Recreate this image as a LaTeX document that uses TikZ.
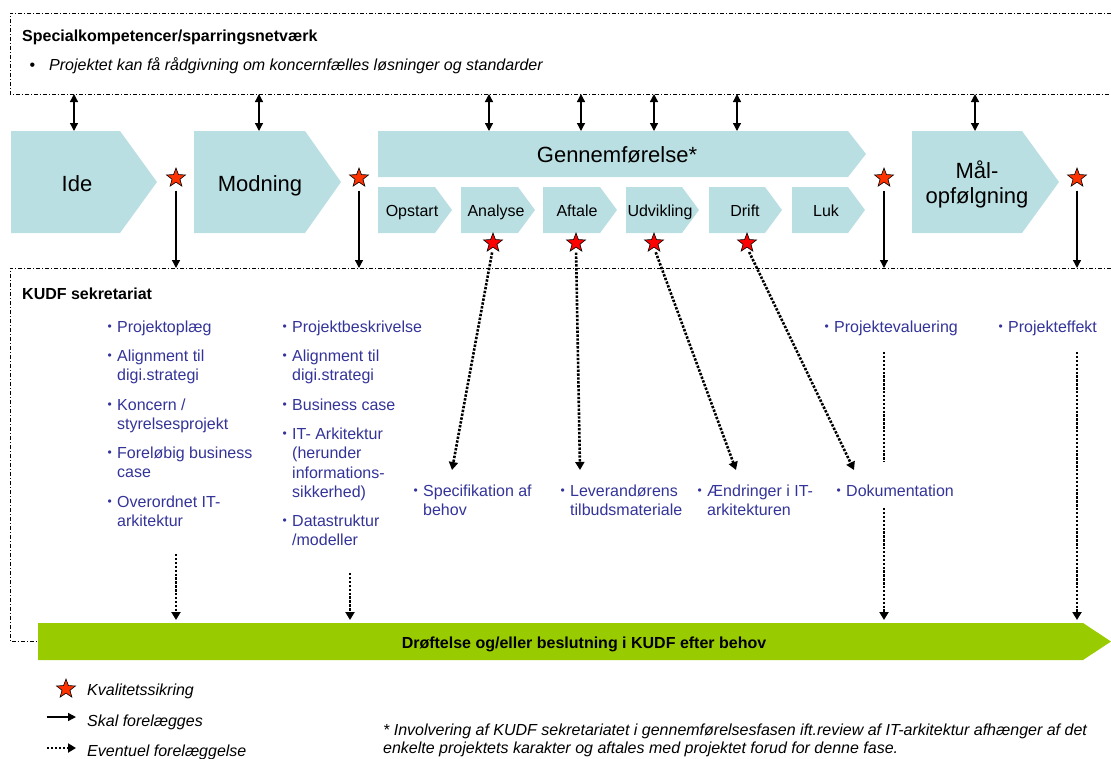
\documentclass[tikz,border=0pt]{standalone}
\usepackage{fontspec}
\setmainfont{Liberation Sans}
\usetikzlibrary{arrows.meta,shapes.geometric}
\definecolor{chevc}{RGB}{186,223,226}
\definecolor{greenbar}{RGB}{153,204,0}
\definecolor{itemblue}{RGB}{51,51,153}
\definecolor{staro}{RGB}{255,51,0}
\definecolor{starr}{RGB}{255,0,0}
% small bullet hanging to the left of an item
\newcommand{\bul}{\llap{\raisebox{1.2pt}{\fontsize{12}{12}\selectfont\textbullet}\hspace{5.5pt}}}
% chevron: left x, top y, start of point x, tip x, bottom y
\newcommand{\chev}[5]{\fill[chev] (#1,#2) -- (#3,#2) -- (#4,{(#2+#5)/2}) -- (#3,#5) -- (#1,#5) -- cycle;}
\begin{document}
\begin{tikzpicture}[x=1pt,y=-1pt,
  chev/.style={fill=chevc},
  frame/.style={line width=0.8pt,dash pattern=on 4pt off 2pt on 1pt off 2pt},
  must/.style={line width=1.3pt,-{Triangle[width=8pt,length=8pt]}},
  both/.style={line width=1.3pt,{Triangle[width=8pt,length=8pt]}-{Triangle[width=8pt,length=8pt]}},
  maybe/.style={line width=2.6pt,dash pattern=on 2.4pt off 1.5pt,-{Triangle[width=9pt,length=8pt]}},
  dots/.style={line width=2.6pt,dash pattern=on 2.4pt off 1.5pt},
  qstar/.style={star,star points=5,star point ratio=2.4,minimum size=20pt,inner sep=0pt,draw=black,line width=0.6pt,fill=staro},
  rstar/.style={qstar,fill=starr},
  big/.style={font=\fontsize{22}{25}\selectfont,inner sep=0pt,anchor=base},
  lbl/.style={font=\fontsize{16}{19.5}\selectfont,inner sep=0pt,anchor=base},
  % multi-line items are anchored on the baseline of their last line
  item/.style={font=\fontsize{16}{19.5}\selectfont,text=itemblue,align=left,anchor=base west,inner sep=0pt},
  head/.style={font=\fontsize{16}{19.5}\selectfont\bfseries,anchor=base west,inner sep=0pt},
  note/.style={font=\fontsize{16}{18}\selectfont\itshape,anchor=base west,inner sep=0pt,align=left},
]
\useasboundingbox (0,0) rectangle (1111,758);
\clip (0,0) rectangle (1111,758);

% ---- specialist network frame
\draw[frame] (1120,13) -- (10,13) -- (10,94) -- (1120,94);
\coordinate (specb) at (0,94);
\node[head] (spec) at (22,41) {Specialkompetencer/sparringsnetværk};
\node[note] (specnote) at (49,70) {\llap{\upshape\textbullet\hspace{14pt}}Projektet kan få rådgivning om koncernfælles løsninger og standarder};

% ---- secretariat frame
\draw[frame] (1120,268) -- (10,268) -- (10,641) -- (60,641);
\coordinate (kudftop) at (0,268);
\node[head] (kudf) at (22,299) {KUDF sekretariat};

% ---- phase chevrons
\chev{11}{131}{120}{157}{233}
\chev{194}{131}{305}{341}{233}
\chev{378}{131}{848}{866}{177}
\chev{378}{187}{435}{452}{233}
\chev{461}{187}{518}{535}{233}
\chev{543}{187}{600}{617}{233}
\chev{626}{187}{682}{699}{233}
\chev{709}{187}{765}{782}{233}
\chev{792}{187}{848}{865}{233}
\chev{912}{131}{1022}{1059}{233}

\node[big] (ide) at (77,191) {Ide};
\node[big] (modning) at (260,191) {Modning};
\node[big] (gennem) at (617,162) {Gennemførelse*};
\node[big,align=center] (maal) at (977,203) {Mål-\\opfølgning};
\node[lbl] (opstart) at (412,216) {Opstart};
\node[lbl] (analyse) at (496,216) {Analyse};
\node[lbl] (aftale) at (577,216) {Aftale};
\node[lbl] (udvikling) at (660,216) {Udvikling};
\node[lbl] (drift) at (745,216) {Drift};
\node[lbl] (luk) at (826,216) {Luk};

% ---- links to the specialist network
\coordinate (t1) at (74,131);
\coordinate (t2) at (259,131);
\coordinate (t3) at (489,131);
\coordinate (t4) at (581,131);
\coordinate (t5) at (654,131);
\coordinate (t6) at (737,131);
\coordinate (t7) at (975,131);
\foreach \t in {t1,t2,t3,t4,t5,t6,t7}
  \draw[both] (\t |- specb) -- (\t);

% ---- quality gates
\node[qstar] (q1) at (176,178) {};
\node[qstar] (q2) at (359,178) {};
\node[qstar] (q3) at (884,178) {};
\node[qstar] (q4) at (1077,178) {};
\node[rstar] (r1) at (493,243) {};
\node[rstar] (r2) at (576,243) {};
\node[rstar] (r3) at (654,243) {};
\node[rstar] (r4) at (747,243) {};
\foreach \q in {q1,q2,q3,q4}
  \draw[must,shorten <=8pt] (\q.south) -- (\q.south |- kudftop);

% ---- secretariat deliverables
\node[item] (c1a) at (117,332) {\bul Projektoplæg};
\node[item] (c1b) at (117,380.5) {\bul Alignment til\\digi.strategi};
\node[item] (c1c) at (117,429.5) {\bul Koncern /\\styrelsesprojekt};
\node[item] (c1d) at (117,477.5) {\bul Foreløbig business\\case};
\node[item] (c1e) at (117,526.5) {\bul Overordnet IT-\\arkitektur};

\node[item] (c2a) at (292,332) {\bul Projektbeskrivelse};
\node[item] (c2b) at (292,380.5) {\bul Alignment til\\digi.strategi};
\node[item] (c2c) at (292,410) {\bul Business case};
\node[item] (c2d) at (292,497.5) {\bul IT- Arkitektur\\(herunder\\informations-\\sikkerhed)};
\node[item] (c2e) at (292,545.5) {\bul Datastruktur\\/modeller};

\node[item] (spec2) at (423,515.5) {\bul Specifikation af\\behov};
\node[item] (lever) at (570,515.5) {\bul Leverandørens\\tilbudsmateriale};
\node[item] (aendr) at (707,515.5) {\bul Ændringer i IT-\\arkitekturen};
\node[item] (dok) at (846,496) {\bul Dokumentation};
\node[item] (peval) at (834,332) {\bul Projektevaluering};
\node[item] (peff) at (1008,332) {\bul Projekteffekt};

% ---- optional submissions from the delivery phases
\coordinate (e1) at (452,470);
\coordinate (e2) at (580,470);
\coordinate (e3) at (736,470);
\coordinate (e4) at (854,470);
\draw[maybe,shorten <=5pt] (r1.south) -- (e1);
\draw[maybe,shorten <=5pt] (r2.south) -- (e2);
\draw[maybe,shorten <=5pt] (r3.south) -- (e3);
\draw[maybe,shorten <=5pt] (r4.south) -- (e4);

% ---- decision bar
\fill[greenbar] (38,623) -- (1083,623) -- (1111,641.5) -- (1083,660) -- (38,660) -- cycle;
\node[head,anchor=base] (bar) at (584,648) {Drøftelse og/eller beslutning i KUDF efter behov};
\coordinate (bartop) at (0,620);

\coordinate (f1) at (176,554);
\coordinate (f2) at (350,573);
\coordinate (f3) at (884,508);
\coordinate (f4) at (1077,352);
\coordinate (g1) at (884,352);
\coordinate (g2) at (884,462);
\draw[dots] (g1) -- (g2);
\foreach \f in {f1,f2,f3,f4}
  \draw[maybe] (\f) -- (\f |- bartop);

% ---- legend
\node[qstar] (lstar) at (66,689) {};
\node[note] (lq) at (87,695) {Kvalitetssikring};
\coordinate (la1) at (47,717);
\coordinate (la2) at (76,717);
\draw[must] (la1) -- (la2);
\node[note] (lm) at (87,726) {Skal forelægges};
\coordinate (lb1) at (47,748);
\coordinate (lb2) at (76,748);
\draw[maybe] (lb1) -- (lb2);
\node[note] (lo) at (87,756) {Eventuel forelæggelse};

\node[note] (foot) at (383,753) {* Involvering af KUDF sekretariatet i gennemførelsesfasen ift.review af IT-arkitektur afhænger af det\\enkelte projektets karakter og aftales med projektet forud for denne fase.};
\end{tikzpicture}
\end{document}
